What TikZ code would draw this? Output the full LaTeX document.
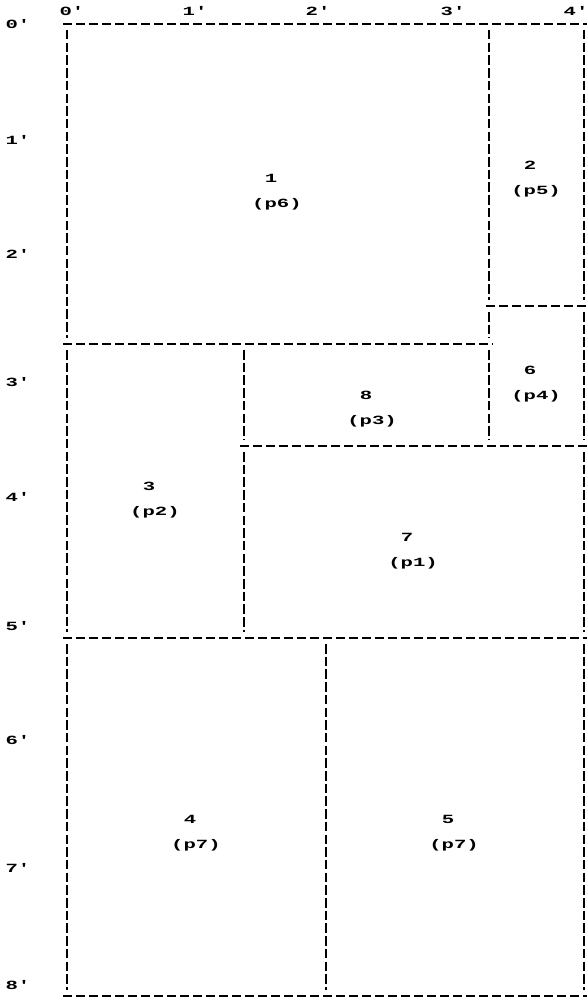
\documentclass[tikz,border=0pt]{standalone}
\usepackage{graphicx}
\usepackage{fontspec}
\setmonofont{Liberation Mono}
\usepackage{tikz}
\usetikzlibrary{positioning}
\tikzset{
  wallh/.style  = {line width=1.4pt, dash pattern=on 9pt off 4pt},
  wallv/.style  = {line width=2.5pt, dash pattern=on 9.5pt off 3.2pt},
  roomtxt/.style = {inner sep=0pt, font=\fontsize{12.5}{14}\selectfont\ttfamily\bfseries},
  ticktxt/.style = {inner sep=0pt, font=\fontsize{12.5}{14}\selectfont\ttfamily\bfseries},
}
\newcommand{\widetxt}[1]{\scalebox{1.65}[1]{#1}}

\begin{document}
\begin{tikzpicture}[x=1pt,y=-1pt]
\useasboundingbox (0,0) rectangle (587,998);
% ---- foot marks ----
\foreach \n/\px in {0/72,1/195,2/318,3/453,4/576}
  \node[ticktxt] (top\n) at (\px,11) {\widetxt{\n'}};
\foreach \n/\py in {0/24,1/140,2/254,3/382,4/497,5/626,6/740,7/868,8/985}
  \node[ticktxt] (left\n) at (18,\py) {\widetxt{\n'}};
% ---- horizontal walls ----
\foreach \wy/\xa/\xb in {24/63/587,306/486/587,344/63/493,446/240/587,638/63/587,996/63/587}
  \draw[wallh] (\xa,\wy) -- (\xb,\wy);
% ---- vertical walls ----
\foreach \wx/\ya/\yb in {67/30/338,67/350/632,67/644/990,
                         489/30/300,489/312/338,489/350/440,
                         584/30/300,584/312/440,584/452/632,584/644/990,
                         244/350/440,244/452/632,326/644/990}
  \draw[wallv] (\wx,\ya) -- (\wx,\yb);
% ---- room numbers and parts ----
\foreach \r/\p/\dx/\dy in {1/6/271/178,2/5/530/165,6/4/530/370,8/3/366/395,
                           3/2/149/486,7/1/407/537,4/7/190/819,5/7/448/819}{
  \node[roomtxt] (room\r) at (\dx,\dy) {\widetxt{\r}};
  \node[roomtxt] (part\r) at (\dx+6,\dy+26) {\widetxt{(p\p)}};
}
\end{tikzpicture}
\end{document}
